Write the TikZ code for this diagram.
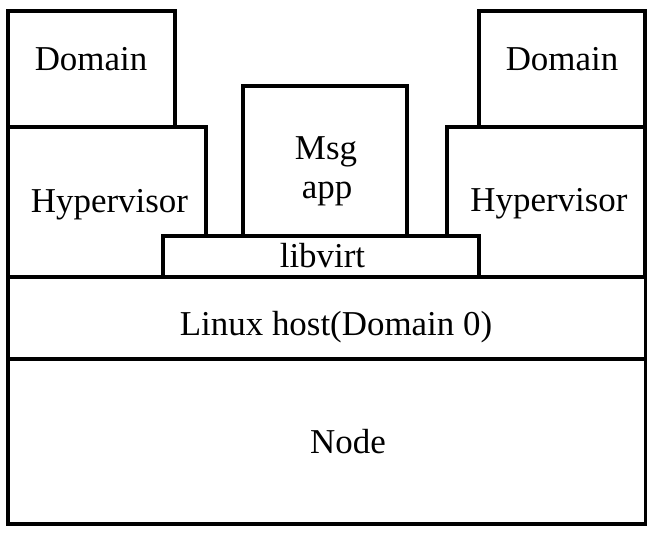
\documentclass[tikz,border=0pt]{standalone}
\usepackage{fontspec}
\setmainfont{Liberation Serif}
\usetikzlibrary{positioning}

\tikzset{
    layer/.style={rectangle,draw,fill=white,line width=2.6pt,inner sep=0pt},
    tag/.style={anchor=base,inner sep=0pt}
}

\begin{document}
\begin{tikzpicture}[x=0.03cm,y=-0.03cm,font=\fontsize{29.8}{33.2}\selectfont]

            \useasboundingbox (0,0) rectangle (652,536);

            % boxes, coordinates in pixels of the original
            \path   (91.5,69) node (domL) [layer,minimum width=5.01cm,minimum height=3.48cm] {}
                    (107,202) node (hypL) [layer,minimum width=5.94cm,minimum height=4.5cm] {}
                    (546,202) node (hypR) [layer,minimum width=5.94cm,minimum height=4.5cm] {}
                    (562,69) node (domR) [layer,minimum width=4.98cm,minimum height=3.48cm] {}
                    (325,161) node (msg) [layer,minimum width=4.92cm,minimum height=4.5cm] {}
                    (321,256.5) node (virt) [layer,minimum width=9.48cm,minimum height=1.23cm] {}
                    (326.5,318) node (host) [layer,minimum width=19.11cm,minimum height=2.46cm] {}
                    (326.5,441.5) node (hw) [layer,minimum width=19.11cm,minimum height=4.95cm] {};

            % texts
            \path   (91,71) node (domLtxt) [tag] {Domain}
                    (562,71) node (domRtxt) [tag] {Domain}
                    (109.5,212) node (hypLtxt) [tag] {Hypervisor}
                    (549,211) node (hypRtxt) [tag] {Hypervisor}
                    (326,159) node (msgtxt) [tag] {Msg}
                    (327,198) node (apptxt) [tag] {app}
                    (322.5,267) node (virttxt) [tag] {libvirt}
                    (336,335) node (hosttxt) [tag] {Linux host(Domain 0)}
                    (348,453) node (hwtxt) [tag] {Node};

\end{tikzpicture}
\end{document}
